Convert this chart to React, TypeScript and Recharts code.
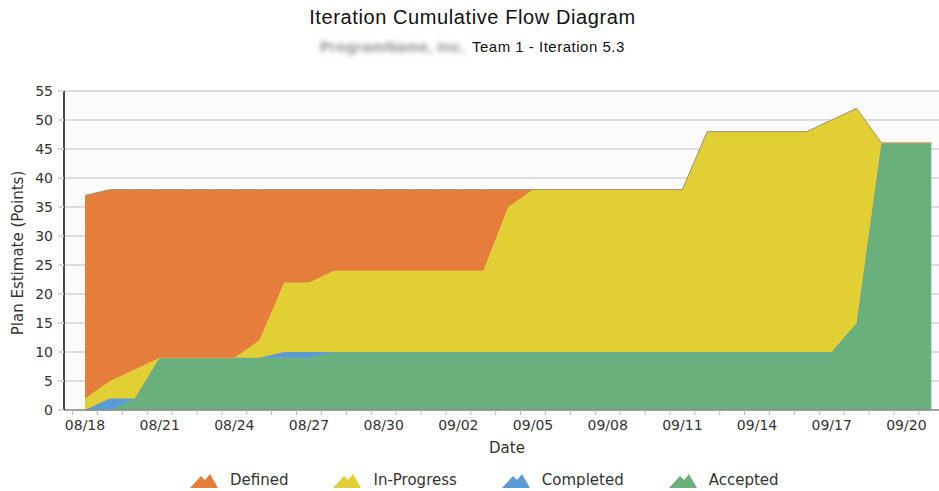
import React from 'react';
import { AreaChart, Area, XAxis, YAxis, CartesianGrid } from 'recharts';

const dates = [
  '08/18', '08/19', '08/20', '08/21', '08/22', '08/23', '08/24', '08/25', '08/26', '08/27',
  '08/28', '08/29', '08/30', '08/31', '09/01', '09/02', '09/03', '09/04', '09/05', '09/06',
  '09/07', '09/08', '09/09', '09/10', '09/11', '09/12', '09/13', '09/14', '09/15', '09/16',
  '09/17', '09/18', '09/19', '09/20', '09/21',
];

const accepted = [
  0, 0, 2, 9, 9, 9, 9, 9, 9, 9,
  10, 10, 10, 10, 10, 10, 10, 10, 10, 10,
  10, 10, 10, 10, 10, 10, 10, 10, 10, 10,
  10, 15, 46, 46, 46,
];
const completed = [
  0, 2, 0, 0, 0, 0, 0, 0, 1, 1,
  0, 0, 0, 0, 0, 0, 0, 0, 0, 0,
  0, 0, 0, 0, 0, 0, 0, 0, 0, 0,
  0, 0, 0, 0, 0,
];
const inProgress = [
  2, 3, 5, 0, 0, 0, 0, 3, 12, 12,
  14, 14, 14, 14, 14, 14, 14, 25, 28, 28,
  28, 28, 28, 28, 28, 38, 38, 38, 38, 38,
  40, 37, 0, 0, 0,
];
const defined = [
  35, 33, 31, 29, 29, 29, 29, 26, 16, 16,
  14, 14, 14, 14, 14, 14, 14, 3, 0, 0,
  0, 0, 0, 0, 0, 0, 0, 0, 0, 0,
  0, 0, 0, 0, 0,
];

const yTicks = [0, 5, 10, 15, 20, 25, 30, 35, 40, 45, 50, 55];
const labelEvery = 3;

const series = [
  { key: 'defined', name: 'Defined', fill: '#E57E3A', stroke: '#A99478' },
  { key: 'inProgress', name: 'In-Progress', fill: '#E2CF34', stroke: '#E2CF34' },
  { key: 'completed', name: 'Completed', fill: '#5B9BD5', stroke: '#5B9BD5' },
  { key: 'accepted', name: 'Accepted', fill: '#6AB07C', stroke: '#6AB07C' },
];

const data = dates.map((d, i) => ({
  i,
  date: d,
  accepted: accepted[i],
  completed: completed[i],
  inProgress: inProgress[i],
  defined: defined[i],
}));

const n = dates.length;
const xTicks: number[] = [];
for (let k = 0; k < n; k++) {
  if (k % labelEvery === 0) xTicks.push(k);
  xTicks.push(k - 0.5);
}
xTicks.sort((a, b) => a - b);

const W = 939;
const H = 491;
const tickFont = '"DejaVu Sans", Verdana, sans-serif';

const XTick = (props: any) => {
  const { x, y, payload } = props;
  const v = payload.value;
  if (Number.isInteger(v)) {
    return (
      <text x={x} y={y + 20} textAnchor="middle" fontSize={14} fill="#333" fontFamily={tickFont}>
        {dates[v]}
      </text>
    );
  }
  return <line x1={x} x2={x} y1={y} y2={y + 5} stroke="#b8b8b8" strokeWidth={1} />;
};

const MountainIcon = ({ color }: { color: string }) => (
  <svg width={28} height={15} style={{ display: 'block' }}>
    <polygon points="0,15 11,3 15,7 20,1 28,15" fill={color} />
  </svg>
);

export default function App() {
  const stackOrder = ['accepted', 'completed', 'inProgress', 'defined'];
  return (
    <div
      style={{
        position: 'absolute',
        left: 0,
        top: 0,
        width: W,
        height: H,
        background: '#fff',
        overflow: 'hidden',
        fontFamily: '"Liberation Sans", Arial, sans-serif',
      }}
    >
      <div
        style={{
          position: 'absolute',
          top: 6,
          left: 3,
          width: W,
          textAlign: 'center',
          fontSize: 20,
          letterSpacing: 0.6,
          color: '#111',
        }}
      >
        Iteration Cumulative Flow Diagram
      </div>
      <div
        style={{
          position: 'absolute',
          top: 38,
          left: 320,
          fontSize: 15,
          letterSpacing: 0.5,
          color: '#111',
          whiteSpace: 'nowrap',
          display: 'flex',
          alignItems: 'center',
        }}
      >
        <span
          style={{
            display: 'inline-block',
            width: 150,
            overflow: 'hidden',
            color: '#8a8a8a',
            filter: 'blur(2.5px)',
            fontWeight: 'bold',
          }}
        >
          ProgramName, Inc.
        </span>
        <span style={{ marginLeft: 2 }}>Team 1 - Iteration 5.3</span>
      </div>

      <div style={{ position: 'absolute', left: 0, top: 0 }}>
        <AreaChart width={W} height={H} data={data} margin={{ top: 91, right: 0, bottom: 0, left: 20 }}>
          <CartesianGrid vertical={false} stroke="#d2d2d2" strokeWidth={1.5} fill="#fbfbfb" />
          <XAxis
            dataKey="i"
            type="number"
            domain={[-0.844, n - 1 + 0.31]}
            ticks={xTicks}
            interval={0}
            allowDataOverflow
            tickLine={false}
            tickSize={0}
            tickMargin={0}
            tick={<XTick />}
            axisLine={{ stroke: '#8c8c8c', strokeWidth: 1.5 }}
            height={81}
          />
          <YAxis
            type="number"
            domain={[0, 55]}
            ticks={yTicks}
            interval={0}
            width={44}
            tickSize={6}
            tickMargin={5}
            tickLine={{ stroke: '#cfcfcf', strokeWidth: 1.5 }}
            axisLine={{ stroke: '#444', strokeWidth: 2 }}
            tick={{ fontSize: 14, fill: '#333', fontFamily: tickFont }}
          />
          {stackOrder.map((k) => {
            const s = series.find((q) => q.key === k)!;
            return (
              <Area
                key={k}
                type="linear"
                dataKey={k}
                name={s.name}
                stackId="cfd"
                fill={s.fill}
                fillOpacity={1}
                stroke={s.stroke}
                strokeWidth={1}
                dot={false}
                activeDot={false}
                isAnimationActive={false}
              />
            );
          })}
        </AreaChart>
      </div>

      <svg
        width={W}
        height={H}
        style={{ position: 'absolute', left: 0, top: 0, pointerEvents: 'none' }}
      >
        <text
          x={507}
          y={453}
          textAnchor="middle"
          fontSize={15}
          fill="#333"
          fontFamily={tickFont}
        >
          Date
        </text>
        <text
          transform="translate(23,253) rotate(-90)"
          textAnchor="middle"
          fontSize={15}
          fill="#333"
          fontFamily={tickFont}
        >
          Plan Estimate (Points)
        </text>
      </svg>

      <div
        style={{
          position: 'absolute',
          left: 190,
          top: 471,
          display: 'flex',
          alignItems: 'center',
          fontFamily: tickFont,
          fontSize: 15,
          color: '#333',
          whiteSpace: 'nowrap',
        }}
      >
        {series.map((s, idx) => (
          <div
            key={s.key}
            style={{
              display: 'flex',
              alignItems: 'center',
              marginRight: idx < series.length - 1 ? 45 : 0,
            }}
          >
            <MountainIcon color={s.fill} />
            <span style={{ marginLeft: 12, lineHeight: '18px' }}>{s.name}</span>
          </div>
        ))}
      </div>
    </div>
  );
}
